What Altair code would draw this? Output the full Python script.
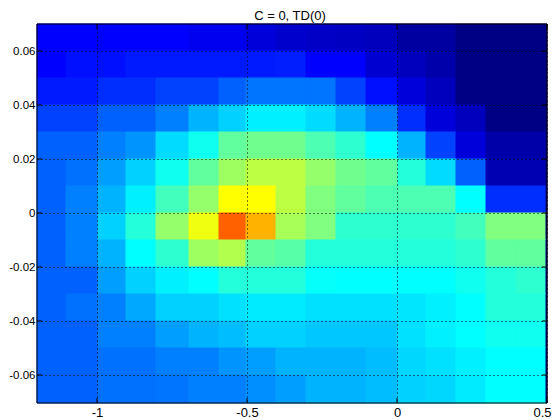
import altair as alt
import pandas as pd

# Column edges (x) and row edges (y)
x_edges = [-1.2, -1.1033, -0.9967, -0.9033, -0.8033, -0.6933, -0.5933, -0.5033, -0.4033, -0.3033, -0.2033, -0.1033, 0.0033, 0.0967, 0.1967, 0.2967, 0.3967, 0.4967, 0.5]
y_edges = [0.07, 0.06, 0.05, 0.04, 0.03, 0.02, 0.01, 0.0, -0.01, -0.02, -0.03, -0.04, -0.05, -0.06, -0.07037]

# Cell values by row (top to bottom), 0-100 on the jet colour scale
row0 = [12.5, 12.5, 12.5, 12.5, 12.5, 11, 11, 9, 7.6, 7, 6.5, 6, 3.2, 3.2, 0.5, 0.5, 0.5, 0.5]
row1 = [12.5, 14, 14, 15, 15, 15, 15, 15, 15.4, 12.5, 12.5, 8, 6, 4.2, 0.5, 0.5, 0.5, 0.5]
row2 = [15, 15, 17, 17, 19, 19, 22, 24, 24, 24, 19, 14, 9, 6, 0.5, 0.5, 0.5, 0.5]
row3 = [19, 19, 22, 22, 25, 30, 33, 36, 36, 34, 30, 25, 17, 9, 6, 0.5, 0.5, 0.5]
row4 = [22, 22, 25, 27, 34, 39, 47, 48.5, 48.5, 45, 42, 37.5, 30, 19, 9, 4, 4, 0.5]
row5 = [22, 23.5, 28, 33, 39, 47, 53, 56, 56, 52, 48.5, 47, 41, 34, 22, 5, 5, 0.5]
row6 = [22, 25, 30, 36, 44, 52, 62.5, 62.5, 56, 50, 47, 45, 45, 45, 37.5, 17, 17, 0.5]
row7 = [22, 25, 33, 41, 52, 61, 78, 70, 54, 50, 42, 42, 42, 42, 44, 50, 50, 0.5]
row8 = [22, 25, 30, 37.5, 42, 53, 55, 47, 46, 41, 41, 41, 41, 41, 42, 47, 47, 0.5]
row9 = [22, 22, 28, 33, 36, 37.5, 41, 41, 41, 38, 37.5, 37.5, 37.5, 37.5, 39, 41, 42, 0.5]
row10 = [22, 23.5, 25, 29, 33, 33, 34.5, 35.5, 35.5, 34.5, 34.5, 34.5, 35, 36, 37.5, 41, 41, 0.5]
row11 = [22, 22, 25, 25, 28, 30, 31, 33, 33, 32, 32, 32, 34.6, 36, 37.5, 39, 39, 0.5]
row12 = [22, 22, 23.5, 23.5, 25, 25, 27, 28, 30, 30, 30, 31, 33.6, 34.6, 36, 37.5, 37.5, 0.5]
row13 = [22, 22, 23.5, 23.5, 24, 25, 25, 26.5, 28, 30, 30, 31, 33, 33.6, 35.5, 37.5, 37.5, 0.5]
rows = [row0, row1, row2, row3, row4, row5, row6, row7, row8, row9, row10, row11, row12, row13]

x_ticks = [-1, -0.5, 0, 0.5]
y_ticks = [-0.06, -0.04, -0.02, 0, 0.02, 0.04, 0.06]
title_text = "C = 0, TD(0)"

jet_stops = [0, 12.5, 37.5, 62.5, 87.5, 100]
jet_colors = ["#000080", "#0000ff", "#00ffff", "#ffff00", "#ff0000", "#800000"]

W, H = 510, 379
FONT = "Liberation Sans"

cells = pd.DataFrame([
    {"x": x_edges[c], "x2": x_edges[c + 1], "y": y_edges[r + 1], "y2": y_edges[r], "v": v}
    for r, row in enumerate(rows) for c, v in enumerate(row)
])

xs = alt.Scale(domain=[-1.2, 0.5], nice=False, zero=False)
ys = alt.Scale(domain=[-0.07037, 0.07], nice=False, zero=False)
jet = alt.Scale(domain=jet_stops, range=jet_colors, interpolate="rgb")

x_axis = alt.Axis(
    values=x_ticks, title=None, grid=True, gridColor="black", gridDash=[1, 3], gridOpacity=1,
    gridWidth=1, domain=False, ticks=False, labelFont=FONT, labelFontSize=13, labelColor="black",
    labelPadding=3, labelExpr="'' + datum.value", zindex=1, labelFlush=True, labelFlushOffset=4,
    labelOverlap=False)
y_axis = alt.Axis(
    values=y_ticks, title=None, grid=True, gridColor="black", gridDash=[1, 3], gridOpacity=1,
    gridWidth=1, domain=False, ticks=False, labelFont=FONT, labelFontSize=11.5, labelColor="black",
    labelPadding=2, labelExpr="'' + datum.value", zindex=1, labelFlush=False, labelOverlap=False)

heat = alt.Chart(cells).mark_rect(strokeWidth=1).encode(
    x=alt.X("x:Q", scale=xs, axis=x_axis),
    x2="x2:Q",
    y=alt.Y("y:Q", scale=ys, axis=y_axis),
    y2="y2:Q",
    color=alt.Color("v:Q", legend=None, scale=jet),
    stroke=alt.Color("v:Q", legend=None, scale=jet),
)

xt = pd.DataFrame({"x": x_ticks})
yt = pd.DataFrame({"y": y_ticks})
tick = alt.Chart(xt).mark_rule(color="black", strokeWidth=1)
bot = tick.encode(x=alt.X("x:Q", scale=xs, axis=x_axis), y=alt.value(H), y2=alt.value(H - 5))
top = tick.encode(x=alt.X("x:Q", scale=xs, axis=x_axis), y=alt.value(0), y2=alt.value(5))
ytick = alt.Chart(yt).mark_rule(color="black", strokeWidth=1)
lft = ytick.encode(y=alt.Y("y:Q", scale=ys, axis=y_axis), x=alt.value(0), x2=alt.value(5))
rgt = ytick.encode(y=alt.Y("y:Q", scale=ys, axis=y_axis), x=alt.value(W), x2=alt.value(W - 5))

frame = alt.Chart(pd.DataFrame({"a": [0]})).mark_rule(color="black", strokeWidth=1)
f1 = frame.encode(x=alt.value(0), x2=alt.value(W), y=alt.value(0))
f2 = frame.encode(x=alt.value(0), x2=alt.value(W), y=alt.value(H))
f3 = frame.encode(y=alt.value(0), y2=alt.value(H), x=alt.value(0))
f4 = frame.encode(y=alt.value(0), y2=alt.value(H), x=alt.value(W))

chart = alt.layer(heat, bot, top, lft, rgt, f1, f2, f3, f4).properties(
    width=W, height=H,
    autosize=alt.AutoSizeParams(type="none", contains="content"),
    padding={"left": 29, "top": 16, "right": 5, "bottom": 17},
    title=alt.TitleParams(title_text, font=FONT, fontSize=13, fontWeight="normal", color="black",
                          anchor="middle", offset=1, dx=-2),
).configure_view(stroke=None)

chart.save("out.html", embed_options={"renderer": "svg", "actions": False})
